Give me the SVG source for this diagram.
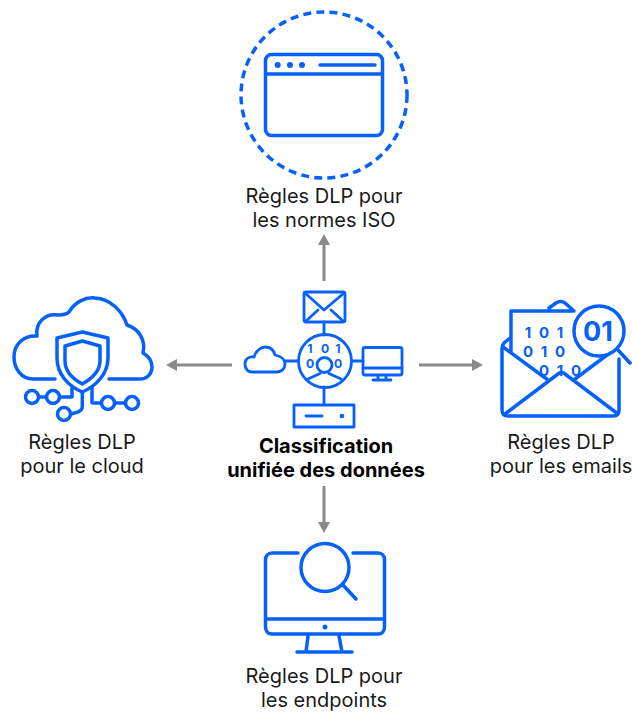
<svg xmlns="http://www.w3.org/2000/svg" width="632" height="713" viewBox="0 0 632 713">
<style>
.i{fill:none;stroke:#0561FA;stroke-width:3.5;stroke-linecap:round;stroke-linejoin:round}
.s{fill:none;stroke:#0561FA;stroke-width:2.8;stroke-linecap:round;stroke-linejoin:round}
.d{fill:#0561FA}
.t{font-family:Inter,"Liberation Sans",sans-serif;font-size:20px;fill:#1a1a1a;text-anchor:middle}
.b{font-weight:700;fill:#000}
.n{font-family:Inter,"Liberation Sans",sans-serif;font-weight:700;fill:#0561FA;text-anchor:middle}
.a{stroke:#8a8a8a;stroke-width:3;fill:none}
.h{fill:#8a8a8a}
</style>
<rect width="632" height="713" fill="#fff"/>
<g id="connectors">
<path class="a" d="M324 281V245"/><path class="h" d="M324 234l-6 11h12z"/>
<path class="a" d="M324 486V522"/><path class="h" d="M324 533l-6-11h12z"/>
<path class="a" d="M232 365H177"/><path class="h" d="M166 365l11-6v12z"/>
<path class="a" d="M419 365H472"/><path class="h" d="M483 365l-11-6v12z"/>
</g>
<g id="node-iso">
<circle cx="324" cy="95" r="83" fill="none" stroke="#0561FA" stroke-width="3.5" stroke-dasharray="8 5.2"/>
<rect class="i" x="265.500" y="54.500" width="117" height="81" rx="6"/>
<path class="i" d="M266 74H382M320 65H375"/>
<circle class="d" cx="277.700" cy="65" r="3"/><circle class="d" cx="290" cy="65" r="3"/><circle class="d" cx="302" cy="65" r="3"/>
<text class="t" x="324" y="203">Règles DLP pour</text>
<text class="t" x="324" y="227">les normes ISO</text>
</g>
<g id="node-cloud">
<path class="i" d="M55 379H33C21 379 14 368 14 357C14 344 24 335 37 336C35 322 46 313 58 315C66 315 68 313 69 312C75 302 85 297 95 298C110 299 122 310 127 325C139 329 146 340 143 353C150 357 152 363 152 367C152 374 147 379 140 379H109"/>
<path class="i" d="M82.300 332L108 338V358C108 374 96 386 82.300 392C68 386 57 374 57 358V338Z"/>
<path class="i" d="M82.300 341L100 346V361C100 372 91 379 82.300 384C73 379 65 372 65 361V346Z"/>
<path class="i" d="M72 388V397H60M39 397H46M82.300 392V407C82.300 410 80 411 78 412L71 414M92 388V403H101M115 403H125"/>
<circle class="i" cx="32" cy="397" r="6.500"/><circle class="i" cx="53" cy="397" r="6.500"/>
<circle class="i" cx="64" cy="414" r="6.500"/><circle class="i" cx="108" cy="403" r="6.500"/><circle class="i" cx="132" cy="403" r="6.500"/>
<text class="t" x="82" y="449">Règles DLP</text>
<text class="t" x="82" y="473">pour le cloud</text>
</g>
<g id="node-email">
<path class="i" d="M511 351V311H574M549 308L556 303C559 301 562 301 565 303L573 310"/>
<path class="i" d="M510 338L504 343C502 345 502 347 502 349V410C502 414 504 416 508 416H613C617 416 619 414 619 410V359"/>
<path class="i" d="M503 347L548 380M607 355L575 379M505 414L558 374C560 372 563 372 565 374L618 414"/>
<path class="i" d="M618 350L630 363"/>
<circle class="i" cx="599" cy="331" r="25" fill="#fff"/>
<text class="n" x="598" y="341" font-size="27">01</text>
<g font-size="15">
<text class="n" x="528" y="338">1</text><text class="n" x="544" y="338">0</text><text class="n" x="560" y="338">1</text>
<text class="n" x="528" y="357">0</text><text class="n" x="544" y="357">1</text><text class="n" x="560" y="357">0</text>
<text class="n" x="544" y="376">0</text><text class="n" x="560" y="376">1</text><text class="n" x="576" y="376">0</text>
</g>
<text class="t" x="561" y="449">Règles DLP</text>
<text class="t" x="561" y="473">pour les emails</text>
</g>
<g id="node-endpoints">
<path class="i" d="M298 553H272C268 553 265.500 556 265.500 560V627C265.500 631 268 634 272 634H378C382 634 384.500 631 384.500 627V560C384.500 556 382 553 378 553H353"/>
<path class="i" d="M266 619H384M308 636L306 652M339 636L342 652M297 652H352"/>
<circle class="i" cx="325" cy="567.500" r="24"/>
<path class="i" d="M343 585L356 599"/>
<circle class="d" cx="325" cy="627" r="2.500"/>
<text class="t" x="324" y="683">Règles DLP pour</text>
<text class="t" x="324" y="707">les endpoints</text>
</g>
<g id="node-center">
<path class="s" d="M324 322V335M324 387V404M285 361H298M352 361H363"/>
<rect class="s" x="304" y="292" width="41" height="30" rx="2"/>
<path class="s" d="M305 293L324 310L344 293M306 321L318 310M343 321L331 310"/>
<circle class="s" cx="325" cy="361" r="26.500"/>
<circle class="s" cx="324.500" cy="365" r="7.500"/>
<path class="s" d="M308 379L320 373.500M341 379L329 373.500"/>
<text class="n" x="310" y="352.500" font-size="12.200">1</text><text class="n" x="325" y="352.500" font-size="12.200">0</text><text class="n" x="338" y="352.500" font-size="12.200">1</text>
<text class="n" x="310" y="367.500" font-size="12.200">0</text><text class="n" x="338" y="367.500" font-size="12.200">0</text>
<path class="s" d="M252 372C246 372 245 366 245 364C245 359 249 356 254 357C256 350 262 347 265 347C271 347 274 351 275 355C280 356 285 359 285 364C285 369 281 372 277 372Z"/>
<rect class="s" x="363" y="347.500" width="39" height="27.500" rx="2"/>
<path class="s" d="M363 368H402M378 376V380M386 376V380M373 380H391"/>
<rect class="s" x="294" y="405" width="60" height="22"/>
<path class="s" d="M306 416H322"/><circle class="d" cx="342" cy="416" r="2.300"/>
<text class="t b" x="326" y="453">Classification</text>
<text class="t b" x="326" y="477">unifiée des données</text>
</g>
</svg>
